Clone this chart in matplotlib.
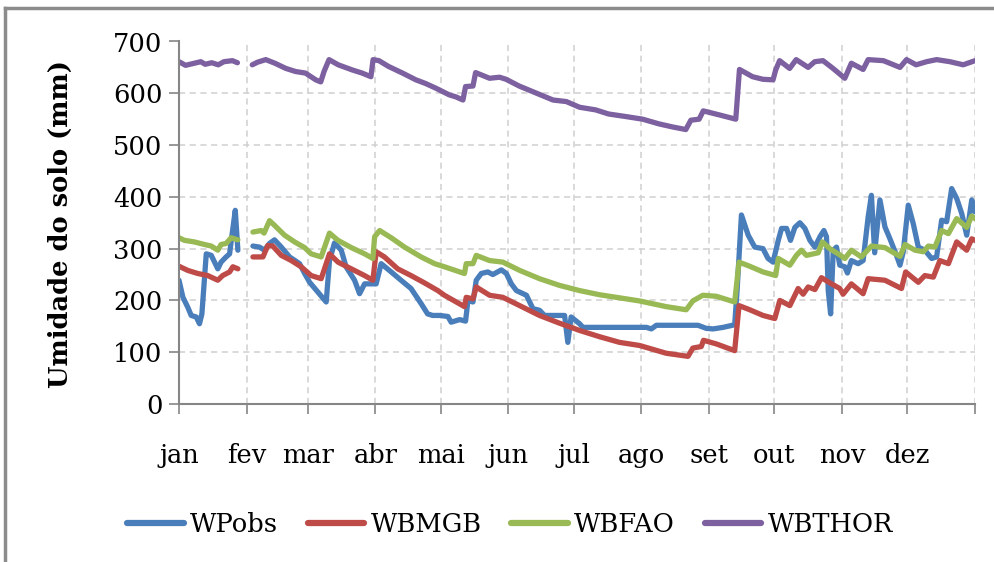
import numpy as np
import matplotlib
matplotlib.use("Agg")
import matplotlib.pyplot as plt
from matplotlib.lines import Line2D

plt.rcParams['font.family'] = ['DejaVu Serif']

months = ["jan", "fev", "mar", "abr", "mai", "jun", "jul", "ago", "set", "out", "nov", "dez"]
month_days = [31, 28, 31, 30, 31, 30, 31, 31, 30, 31, 30, 31]
y_ticks = [0, 100, 200, 300, 400, 500, 600, 700]
series_names = ["WPobs", "WBMGB", "WBFAO", "WBTHOR"]
series_colors = ["#4A7EBB", "#BE4B48", "#98B954", "#7D60A0"]

# ---- WPobs (day of year, mm); None marks the data gap ----
obs_day = [0, 1.8, 4, 5.6, 7.9, 9.4, 10.5, 12.5, 14.8, 17.8, 19.3, 21.6, 23.2, 24.2, 25.8, 27,
           30,
           33.9, 36.9, 39.2, 41.5, 43.8, 46.9, 50.7, 55.3, 57.6, 59.9, 63.7, 67.5, 69, 71.3, 74.4,
           76.6, 80.5, 82.8, 85.1, 88.1, 90.4, 92.7, 97.3, 101.8, 106.4, 111, 114, 116.3, 119.5,
           123.3, 124.8, 128.7, 131.4, 132.5, 134.8, 136.3, 138.6, 141.6, 143.9, 147.8, 150.1,
           152.4, 154.7, 159.3, 162.3, 165.3, 167.6, 176.8, 178.3, 179.8, 183.7, 185.2, 214.3,
           216.6, 218.9, 238, 241.8, 244.9, 249.5, 254.8, 255.9, 257.9, 261, 264, 267.8, 270.1,
           272.4, 274.8, 276.3, 278.6, 280.4, 282.4, 284.7, 287, 289.3, 291.6, 293.9, 295.7,
           296.9, 297.7, 298.8, 300, 301.5, 303, 305.3, 306.5, 308.3, 311.4, 313.7, 316, 317.5,
           319, 321.4, 323.7, 326, 329, 330.6, 332.1, 334.4, 336.7, 339, 342, 345.1, 347.4,
           349.7, 352, 354.3, 356.6, 358.9, 361.2, 363.5, 365]
obs_val = [239, 206, 187, 171, 168, 155, 174, 290, 287, 261, 274, 284, 290, 323, 374, 297,
           None,
           305, 303, 297, 310, 317, 303, 284, 271, 252, 235, 216, 197, 277, 311, 297,
           265, 239, 213, 232, 232, 232, 271, 255, 239, 223, 194, 174, 171, 171,
           169, 158, 163, 160, 200, 197, 239, 252, 255, 250, 259, 252,
           232, 219, 210, 184, 181, 171, 171, 119, 168, 155, 148, 148,
           145, 152, 152, 146, 145, 148, 153, 219, 365, 326, 303, 300, 281,
           274, 316, 339, 339, 316, 341, 350, 339, 316, 303, 323, 335,
           323, 219, 174, 297, 303, 268, 265, 253, 277, 271, 277, 361, 403,
           292, 394, 342, 319, 287, 268, 294, 384, 348, 303, 297, 281, 284,
           355, 352, 416, 397, 368, 326, 394, 371]

# ---- WBMGB ----
mgb_day = [0, 4, 8.6, 13.2, 17.8, 20, 23.2, 24.7, 27,
           30,
           33.9, 38.5, 40.7, 43, 46.9, 51.5, 56, 60.6, 65.2, 69, 72.9, 79, 85.1, 88.9, 90.4,
           94.2, 100.3, 106.4, 112.5, 118.7, 121.7, 130.9, 131.7, 134.8, 136.3, 142.4, 148.5,
           156.2, 165.3, 174.5, 183.7, 192.8, 202, 211.2, 223.4, 233.4, 235.6, 239.5, 240.5,
           246.4, 254.8, 256.8, 261.7, 267.8, 273.2, 275.5, 280.1, 283.9, 286.2, 288.5, 291.6,
           294.6, 298.4, 303, 304.5, 308.3, 313.7, 316, 323.7, 331.3, 333.2, 339, 342, 345.9,
           348.9, 352.8, 356.6, 361.2, 363.5, 365]
mgb_val = [266, 258, 252, 248, 239, 248, 255, 265, 261,
           None,
           284, 284, 306, 305, 287, 277, 265, 248, 242, 290, 274, 261, 248, 239, 294,
           284, 261, 248, 234, 219, 210, 188, 206, 203, 226, 210, 206,
           190, 171, 156, 142, 130, 119, 113, 98, 92, 108, 111, 123,
           116, 103, 190, 182, 171, 165, 200, 190, 223, 212, 226, 221,
           244, 234, 223, 212, 232, 213, 242, 239, 223, 255, 235, 248, 245,
           277, 271, 313, 297, 319, 316]

# ---- WBFAO ----
fao_day = [0, 2.5, 7, 11.7, 14.8, 17.8, 19.3, 21.6, 23.9, 27,
           30,
           33.9, 37.7, 39, 41.5, 43.8, 48.4, 53, 57.6, 60.6, 65.2, 69, 72.9, 79, 85.1, 88.9,
           89.7, 92, 97.3, 103.4, 111, 117.2, 121.7, 130.9, 131.7, 134.8, 136.3, 142.4, 148.5,
           156.2, 165.3, 174.5, 183.7, 192.8, 200.5, 211.2, 223.4, 232.6, 235.6, 240.2, 246.4,
           254.8, 256.8, 261.7, 267.8, 273.6, 274.8, 280.1, 283.1, 285.4, 287.7, 293.1, 295,
           298.4, 303, 305.3, 308.3, 312.9, 317.5, 323.7, 330.6, 332.9, 337.5, 341.3, 343.6,
           346.6, 349.7, 352.8, 356.6, 361.2, 363.5, 365]
fao_val = [321, 316, 313, 308, 305, 297, 308, 310, 321, 317,
           None,
           332, 335, 330, 354, 345, 326, 313, 302, 290, 284, 330, 316, 302, 290, 281,
           323, 335, 321, 303, 284, 271, 265, 252, 271, 271, 287, 277, 274,
           258, 242, 229, 219, 211, 206, 199, 188, 182, 199, 210, 208,
           197, 274, 266, 255, 248, 281, 268, 287, 297, 287, 292, 313,
           300, 288, 281, 297, 284, 305, 302, 285, 308, 297, 294, 305,
           303, 335, 329, 358, 341, 363, 358]

# ---- WBTHOR ----
thor_day = [0, 3, 6, 10, 12, 15, 18, 20.6, 24.5, 26.8,
            30,
            33.6, 36, 39.8, 44, 49, 53.5, 58, 62.7, 65, 66.5, 68.8, 73, 79.5, 84, 88, 89, 91.7,
            96, 102.5, 108.6, 113, 117.7, 123.9, 127, 130.2, 131.4, 134.8, 136, 142.4, 147,
            150, 156, 162.3, 171.5, 177.6, 183.7, 191, 197, 205, 212.6, 220, 226.3, 232.4,
            234.7, 238.5, 240.4, 248, 255.3, 257, 263, 267.8, 272.4, 273.6, 275.4, 280, 283,
            288.5, 291.5, 295.3, 299.9, 305.3, 308.3, 313.7, 316, 323, 330.6, 333.6, 338,
            342.8, 347.4, 353.5, 359.6, 365]
thor_val = [661, 654, 657, 661, 656, 659, 655, 661, 663, 659,
            None,
            655, 660, 665, 658, 648, 642, 639, 626, 622, 642, 665, 655, 645, 639, 632, 665, 663,
            652, 639, 626, 619, 610, 597, 593, 587, 613, 614, 640, 629, 631,
            627, 614, 603, 587, 584, 573, 568, 560, 555, 550, 541, 535, 530,
            548, 550, 566, 558, 550, 646, 632, 627, 626, 645, 663, 648, 665,
            650, 661, 663, 648, 629, 658, 646, 665, 663, 650, 665, 655,
            661, 665, 661, 655, 663]

W, H = 994, 562
fig = plt.figure(figsize=(W / 100, H / 100), dpi=100)
ax = fig.add_axes([179 / W, 1 - 404 / H, (975 - 179) / W, (404 - 41.5) / H])

series = [(obs_day, obs_val), (mgb_day, mgb_val), (fao_day, fao_val), (thor_day, thor_val)]
for (d, v), name, col in zip(series, series_names, series_colors):
    ax.plot(np.array(d, dtype=float), np.array(v, dtype=float), color=col, lw=3.8,
            label=name, solid_joinstyle='round', solid_capstyle='round', zorder=3)

bounds = np.concatenate([[0], np.cumsum(month_days)])
ax.set_xlim(0, bounds[-1])
ax.set_ylim(0, 700)
ax.set_xticks(bounds)
ax.set_xticklabels(months + [""])
ax.set_yticks(y_ticks)

grid_kw = dict(color="#D0D0D0", lw=1.1, ls=(0, (4, 3)), zorder=1)
for yv in y_ticks[1:]:
    ax.axhline(yv, **grid_kw)
for xv in bounds[1:]:
    ax.axvline(xv, **grid_kw)

for s in ["top", "right"]:
    ax.spines[s].set_visible(False)
for s in ["left", "bottom"]:
    ax.spines[s].set_color("#868686")
    ax.spines[s].set_linewidth(1.5)
    ax.spines[s].set_zorder(4)

ax.tick_params(axis="y", direction="out", length=7, width=1.2, color="#868686",
               labelsize=18.5, pad=5)
ax.tick_params(axis="x", direction="out", length=7, width=1.2, color="#868686",
               labelsize=18.5, pad=21)

fig.text(60 / W, 1 - 224 / H, "Umidade do solo (mm)", rotation=90, ha="center", va="center",
         fontsize=18.5, fontweight="bold")

leg = fig.legend(loc="center", bbox_to_anchor=(510 / W, 1 - 524 / H), ncol=4, frameon=False,
                 fontsize=18.5, handlelength=2.2, handletextpad=0.25, columnspacing=1.15)
for h in leg.get_lines():
    h.set_linewidth(4.5)
    h.set_solid_capstyle("round")

fig.add_artist(Line2D([5 / W, 5 / W], [0, 1 - 8 / H], transform=fig.transFigure,
                      color="#8C8C8C", lw=2.5))
fig.add_artist(Line2D([5 / W, 1], [1 - 8 / H, 1 - 8 / H], transform=fig.transFigure,
                      color="#8C8C8C", lw=2.5))

fig.savefig("out.png", dpi=100)
